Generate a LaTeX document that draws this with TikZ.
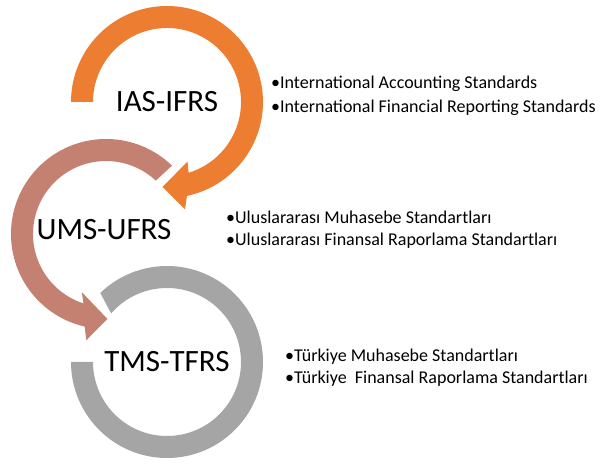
\documentclass[tikz,border=0pt]{standalone}
\usepackage{fontspec}
\setmainfont{Carlito}

\definecolor{ringOrange}{HTML}{ED7D31}
\definecolor{ringBrown}{HTML}{C48070}
\definecolor{ringGray}{HTML}{A5A5A5}

\tikzset{
    ringlabel/.style={font=\fontsize{31}{31}\selectfont, inner sep=0pt},
    bulletline/.style={font=\fontsize{18}{18}\selectfont, anchor=base west, inner sep=0pt}
}

\begin{document}
\begin{tikzpicture}[x=1pt, y=1pt]
        % Cadre de la figure
        \useasboundingbox (0,0) rectangle (605,468);

        % Centres des anneaux
        \coordinate (Cias) at (167,366);
        \coordinate (Cums) at (106,234);
        \coordinate (Ctms) at (167,106);

        % Rayons des anneaux
        \def\Rext{96pt}
        \def\Rint{74pt}

        % Anneau orange : IAS-IFRS (fleche vers le bas a gauche)
        \begin{scope}[shift={(Cias)}]
            \fill[ringOrange] (180:\Rext) arc[start angle=180, end angle=-78, radius=\Rext]
                -- (-80.5:109pt) -- (-93:85pt) -- (-71:63pt) -- (-73:\Rint)
                arc[start angle=-73, end angle=180, radius=\Rint] -- cycle;
        \end{scope}

        % Anneau brun : UMS-UFRS (fleche vers la droite)
        \begin{scope}[shift={(Cums)}]
            \fill[ringBrown] (46:95pt) arc[start angle=46, end angle=257, radius=95pt]
                -- (259.5:108pt) -- (271:85pt) -- (247.5:63pt) -- (252:73pt)
                arc[start angle=252, end angle=47, radius=73pt] -- cycle;
        \end{scope}

        % Anneau gris : TMS-TFRS (sans fleche)
        \begin{scope}[shift={(Ctms)}]
            \fill[ringGray] (180:\Rext) arc[start angle=180, end angle=494, radius=\Rext]
                -- (499:\Rint) arc[start angle=499, end angle=180, radius=\Rint] -- cycle;
        \end{scope}

        % Sigles
        \node[ringlabel] (ias) at (Cias) {IAS-IFRS};
        \node[ringlabel] (ums) at (104,238) {UMS-UFRS};
        \node[ringlabel] (tms) at (Ctms) {TMS-TFRS};

        % Listes a puces
        \node[bulletline] (iasA) at (271,379) {•International Accounting Standards};
        \node[bulletline] (iasB) at (271,355) {•International Financial Reporting Standards};

        \node[bulletline] (umsA) at (226,244) {•Uluslararası Muhasebe Standartları};
        \node[bulletline] (umsB) at (226,222) {•Uluslararası Finansal Raporlama Standartları};

        \node[bulletline] (tmsA) at (285,106) {•Türkiye Muhasebe Standartları};
        \node[bulletline] (tmsB) at (285,84) {•Türkiye\ \ Finansal Raporlama Standartları};

    \end{tikzpicture}
\end{document}
